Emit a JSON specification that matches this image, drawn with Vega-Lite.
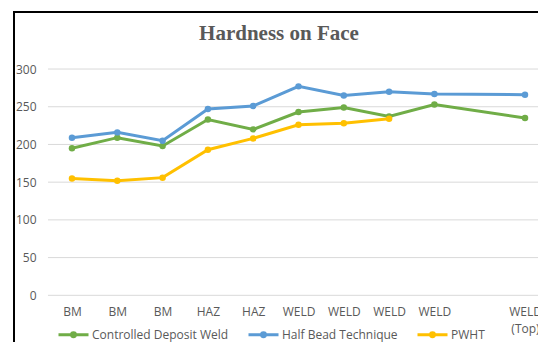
{
  "$schema": "https://vega.github.io/schema/vega-lite/v6.json",
  "autosize": "none",
  "width": 524,
  "height": 330,
  "padding": {"left": 14, "top": 12, "right": 0, "bottom": 0},
  "background": "white",
  "title": {
    "text": "Hardness on Face",
    "font": "Liberation Serif",
    "fontSize": 21,
    "fontWeight": "bold",
    "color": "#595959",
    "anchor": "middle",
    "dx": 3,
    "offset": -32
  },
  "config": {
    "view": {"stroke": "#000000", "strokeWidth": 2, "strokeDash": [524, 854, 330]},
    "axis": {"labelFont": "Open Sans", "labelFontSize": 12, "labelColor": "#595959"}
  },
  "datasets": {
    "grid": [
      {"g": 0}, {"g": 50}, {"g": 100}, {"g": 150}, {"g": 200}, {"g": 250}, {"g": 300}
    ],
    "hardness": [
      {"i": 1, "series": "Controlled Deposit Weld", "v": 195},
      {"i": 2, "series": "Controlled Deposit Weld", "v": 209},
      {"i": 3, "series": "Controlled Deposit Weld", "v": 198},
      {"i": 4, "series": "Controlled Deposit Weld", "v": 233},
      {"i": 5, "series": "Controlled Deposit Weld", "v": 220},
      {"i": 6, "series": "Controlled Deposit Weld", "v": 243},
      {"i": 7, "series": "Controlled Deposit Weld", "v": 249},
      {"i": 8, "series": "Controlled Deposit Weld", "v": 237},
      {"i": 9, "series": "Controlled Deposit Weld", "v": 253},
      {"i": 11, "series": "Controlled Deposit Weld", "v": 235},
      {"i": 1, "series": "Half Bead Technique", "v": 209},
      {"i": 2, "series": "Half Bead Technique", "v": 216},
      {"i": 3, "series": "Half Bead Technique", "v": 205},
      {"i": 4, "series": "Half Bead Technique", "v": 247},
      {"i": 5, "series": "Half Bead Technique", "v": 251},
      {"i": 6, "series": "Half Bead Technique", "v": 277},
      {"i": 7, "series": "Half Bead Technique", "v": 265},
      {"i": 8, "series": "Half Bead Technique", "v": 270},
      {"i": 9, "series": "Half Bead Technique", "v": 267},
      {"i": 11, "series": "Half Bead Technique", "v": 266},
      {"i": 1, "series": "PWHT", "v": 155},
      {"i": 2, "series": "PWHT", "v": 152},
      {"i": 3, "series": "PWHT", "v": 156},
      {"i": 4, "series": "PWHT", "v": 193},
      {"i": 5, "series": "PWHT", "v": 208},
      {"i": 6, "series": "PWHT", "v": 226},
      {"i": 7, "series": "PWHT", "v": 228},
      {"i": 8, "series": "PWHT", "v": 234}
    ]
  },
  "layer": [
    {
      "data": {"name": "grid"},
      "mark": {"type": "rule", "color": "#d9d9d9", "strokeWidth": 1},
      "encoding": {
        "x": {"datum": 0.47, "type": "quantitative"},
        "x2": {"datum": 11.3},
        "y": {"field": "g", "type": "quantitative"}
      }
    },
    {
      "data": {"name": "hardness"},
      "mark": {"type": "line", "strokeWidth": 3, "point": {"size": 42, "filled": true}},
      "encoding": {
        "x": {
          "field": "i",
          "type": "quantitative",
          "scale": {"domain": [-0.28, 11.287], "nice": false, "zero": false},
          "axis": {
            "title": null,
            "values": [1, 2, 3, 4, 5, 6, 7, 8, 9, 11],
            "labelExpr": "datum.value == 11 ? ['WELD', '(Top)'] : datum.value <= 3 ? 'BM' : datum.value <= 5 ? 'HAZ' : 'WELD'",
            "labelLineHeight": 17,
            "grid": false,
            "domain": false,
            "ticks": false,
            "labelPadding": 0,
            "labelFlush": false,
            "labelOverlap": false,
            "offset": -36
          }
        },
        "y": {
          "field": "v",
          "type": "quantitative",
          "scale": {"domain": [-61.9, 375.6], "nice": false, "zero": false},
          "axis": {
            "title": null,
            "values": [0, 50, 100, 150, 200, 250, 300],
            "grid": false,
            "domain": false,
            "ticks": false,
            "labelPadding": 0,
            "offset": -22
          }
        },
        "color": {
          "field": "series",
          "type": "nominal",
          "scale": {
            "domain": ["Controlled Deposit Weld", "Half Bead Technique", "PWHT"],
            "range": ["#70AD47", "#5B9BD5", "#FFC000"]
          },
          "legend": {
            "title": null,
            "orient": "none",
            "direction": "horizontal",
            "legendX": 43,
            "legendY": 306,
            "padding": 0,
            "symbolType": "M-1,0H1M-0.13,0A0.13,0.13,0,1,1,0.13,0A0.13,0.13,0,1,1,-0.13,0Z",
            "symbolSize": 900,
            "symbolStrokeWidth": 3,
            "labelOffset": 2,
            "columnPadding": 13,
            "labelFont": "Open Sans",
            "labelFontSize": 12,
            "labelColor": "#595959"
          }
        }
      }
    }
  ]
}
